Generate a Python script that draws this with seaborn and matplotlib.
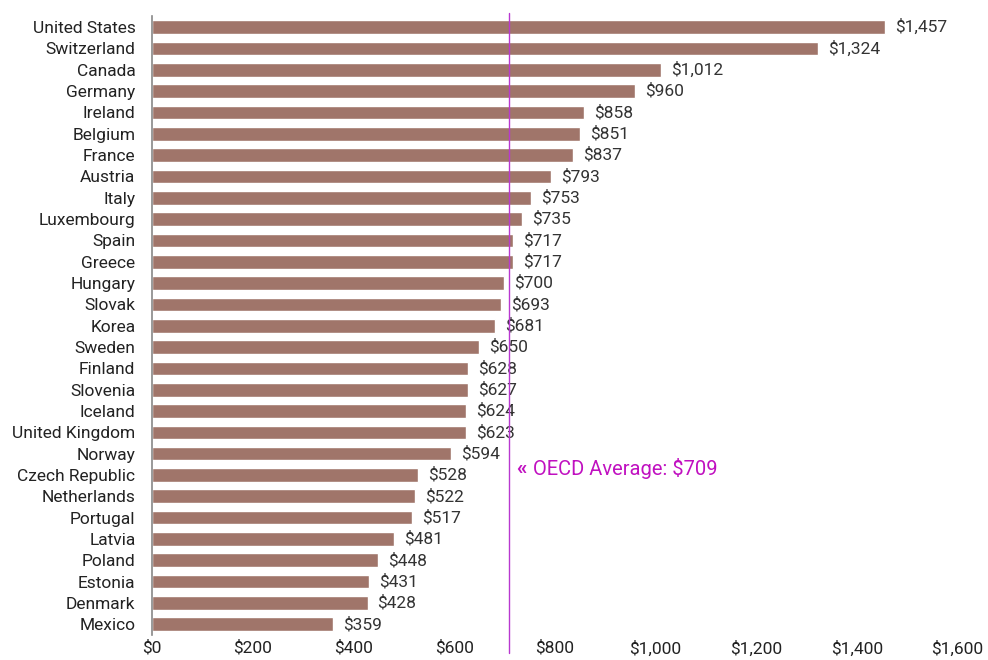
import matplotlib
matplotlib.use("Agg")
import matplotlib.pyplot as plt
import seaborn as sns
import pandas as pd

# Datos
paises = [
    "United States", "Switzerland", "Canada", "Germany", "Ireland", "Belgium",
    "France", "Austria", "Italy", "Luxembourg", "Spain", "Greece", "Hungary",
    "Slovak", "Korea", "Sweden", "Finland", "Slovenia", "Iceland",
    "United Kingdom", "Norway", "Czech Republic", "Netherlands", "Portugal",
    "Latvia", "Poland", "Estonia", "Denmark", "Mexico",
]
gasto = [
    1457, 1324, 1012, 960, 858, 851, 837, 793, 753, 735, 717, 717, 700,
    693, 681, 650, 628, 627, 624, 623, 594, 528, 522, 517, 481, 448, 431,
    428, 359,
]
promedio_oecd = 709
ticks_x = [0, 200, 400, 600, 800, 1000, 1200, 1400, 1600]

df = pd.DataFrame({"pais": paises, "gasto": gasto})

sns.set_theme(style="white")
plt.rcParams["font.family"] = ["Roboto", "DejaVu Sans"]

fig = plt.figure(figsize=(9.88, 6.6), dpi=100)
ax = fig.add_axes([0.154, 0.038, 0.815, 0.937])

sns.barplot(data=df, x="gasto", y="pais", color="#A0756A", saturation=1,
            width=0.64, ax=ax)

for i, v in enumerate(gasto):
    ax.text(v + 20, i, f"${v:,}", va="center", ha="left",
            fontsize=12.5, color="#333333")

ax.axvline(promedio_oecd, ymin=-0.03, ymax=1.005, color="#B838D0",
           linewidth=1.0, clip_on=False, zorder=3)
ax.text(promedio_oecd + 15, 20.7, "«", color="#C010C0", fontsize=15,
        fontweight="bold", va="center", ha="left")
ax.text(promedio_oecd + 47, 20.7, "OECD Average: $709", color="#C010C0",
        fontsize=14.5, va="center", ha="left")

ax.set_xlim(0, 1600)
ax.set_ylim(len(paises) - 0.5, -0.5)
ax.set_xticks(ticks_x)
ax.set_xticklabels([f"${t:,}" for t in ticks_x])
ax.tick_params(axis="both", length=0, labelsize=12.5, colors="#222222")
ax.tick_params(axis="x", pad=4)
ax.tick_params(axis="y", pad=12)
ax.set_xlabel("")
ax.set_ylabel("")

for lado in ["top", "right", "bottom"]:
    ax.spines[lado].set_visible(False)
ax.spines["left"].set_color("#888888")
ax.spines["left"].set_linewidth(1.2)

fig.savefig("out.png", dpi=100)
plt.close(fig)
